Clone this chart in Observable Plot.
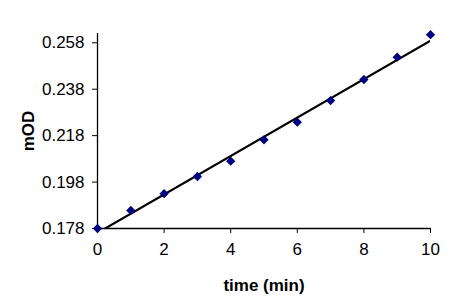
<!DOCTYPE html>
<html>
<head>
<meta charset="utf-8">
<script src="https://cdn.jsdelivr.net/npm/d3@7"></script>
<script src="https://cdn.jsdelivr.net/npm/@observablehq/plot@0.6"></script>
<style>
  html, body { margin: 0; padding: 0; background: #fff; }
  #chart { width: 450px; height: 304px; }
</style>
</head>
<body>
<div id="chart"></div>
<script>
const times = [0, 1, 2, 3, 4, 5, 6, 7, 8, 9, 10];
const mOD = [0.178, 0.1858, 0.1930, 0.2004, 0.2070, 0.2162, 0.2238, 0.2331, 0.2422, 0.2518, 0.2615];
const xTicks = [0, 2, 4, 6, 8, 10];
const yTicks = [0.178, 0.198, 0.218, 0.238, 0.258];

const data = times.map((t, i) => ({time: t, mOD: mOD[i]}));

const chart = Plot.plot({
  width: 450,
  height: 304,
  marginLeft: 97,
  marginRight: 20,
  marginTop: 33,
  marginBottom: 76,
  style: {fontFamily: "Arial, 'Liberation Sans', sans-serif", fontSize: "17px", color: "#000", background: "#fff"},
  x: {domain: [0, 10]},
  y: {domain: [0.178, 0.262]},
  marks: [
    Plot.linearRegressionY(data, {x: "time", y: "mOD", stroke: "#000", strokeWidth: 2.2, ci: 0, clip: true}),
    Plot.ruleX([0], {stroke: "#000", strokeWidth: 1.3}),
    Plot.ruleY([0.178], {stroke: "#000", strokeWidth: 1.3}),
    Plot.axisX({ticks: xTicks, tickSize: 5, tickPadding: 9, tickFormat: d => String(d), label: "time (min)", labelAnchor: "center", labelArrow: "none", labelOffset: 62, stroke: "#000"}),
    Plot.axisY({ticks: yTicks, tickSize: 5, tickPadding: 8, tickFormat: d3.format(".3f"), label: "mOD", labelAnchor: "center", labelArrow: "none", labelOffset: 76, stroke: "#000"}),
    Plot.dot(data, {x: "time", y: "mOD", symbol: "diamond2", r: 4.2, fill: "#000080", stroke: "none"})
  ]
});
d3.select(chart).selectAll('[aria-label$="axis label"] text').attr("font-weight", "bold");
document.getElementById("chart").appendChild(chart);
</script>
</body>
</html>
